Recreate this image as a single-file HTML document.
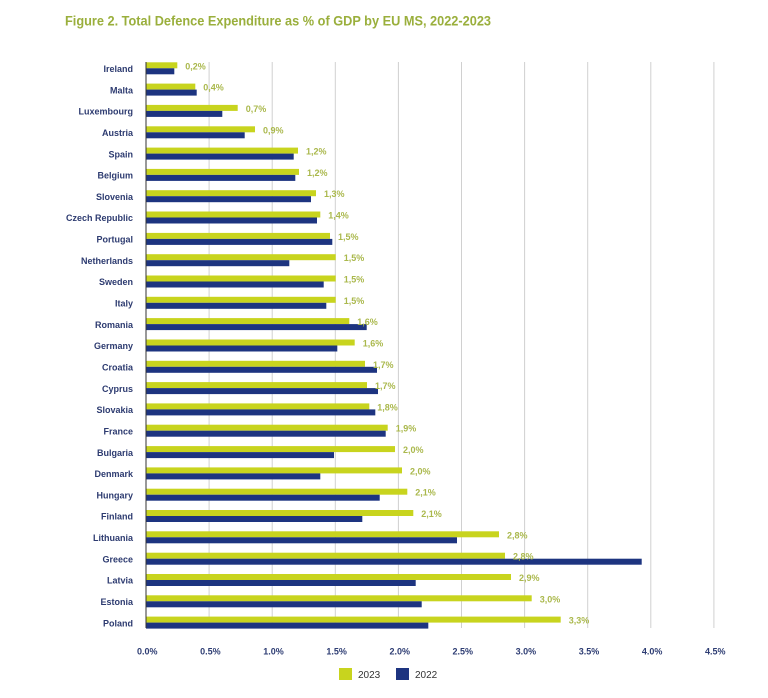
<!DOCTYPE html>
<html><head><meta charset="utf-8"><style>
html,body{margin:0;padding:0;background:#fff;}
svg{display:block;}
.c{font-family:"Liberation Sans",sans-serif;font-weight:bold;font-size:9px;fill:#2d3b70;text-anchor:end;}
.v{font-family:"Liberation Sans",sans-serif;font-weight:bold;font-size:9px;fill:#aab84c;}
.t{font-family:"Liberation Sans",sans-serif;font-weight:bold;font-size:9px;fill:#2e3d73;text-anchor:middle;}
.y{fill:#c8d41e;}
.n{fill:#1d3480;}
.g{stroke:#d0d0d0;stroke-width:1;}
</style></head><body>
<svg width="768" height="698" viewBox="0 0 768 698" xmlns="http://www.w3.org/2000/svg">
<rect width="768" height="698" fill="#fff"/>
<text x="65" y="25.5" font-family="Liberation Sans, sans-serif" font-weight="bold" font-size="14" fill="#9aaf3c" textLength="426" lengthAdjust="spacingAndGlyphs">Figure 2. Total Defence Expenditure as % of GDP by EU MS, 2022-2023</text>
<g>
<line class="g" x1="209.1" y1="62" x2="209.1" y2="628"/>
<line class="g" x1="272.2" y1="62" x2="272.2" y2="628"/>
<line class="g" x1="335.3" y1="62" x2="335.3" y2="628"/>
<line class="g" x1="398.4" y1="62" x2="398.4" y2="628"/>
<line class="g" x1="461.5" y1="62" x2="461.5" y2="628"/>
<line class="g" x1="524.6" y1="62" x2="524.6" y2="628"/>
<line class="g" x1="587.7" y1="62" x2="587.7" y2="628"/>
<line class="g" x1="650.8" y1="62" x2="650.8" y2="628"/>
<line class="g" x1="713.9" y1="62" x2="713.9" y2="628"/>
</g>
<g>
<rect class="y" x="146" y="62.3" width="31.3" height="6"/><rect class="n" x="146" y="68.3" width="28.3" height="6"/>
<rect class="y" x="146" y="83.6" width="49.3" height="6"/><rect class="n" x="146" y="89.6" width="50.7" height="6"/>
<rect class="y" x="146" y="104.9" width="91.7" height="6"/><rect class="n" x="146" y="110.9" width="76.3" height="6"/>
<rect class="y" x="146" y="126.3" width="109" height="6"/><rect class="n" x="146" y="132.3" width="98.7" height="6"/>
<rect class="y" x="146" y="147.6" width="152" height="6"/><rect class="n" x="146" y="153.6" width="147.7" height="6"/>
<rect class="y" x="146" y="168.9" width="153" height="6"/><rect class="n" x="146" y="174.9" width="149.3" height="6"/>
<rect class="y" x="146" y="190.2" width="170" height="6"/><rect class="n" x="146" y="196.2" width="165" height="6"/>
<rect class="y" x="146" y="211.5" width="174.3" height="6"/><rect class="n" x="146" y="217.5" width="171" height="6"/>
<rect class="y" x="146" y="232.9" width="184" height="6"/><rect class="n" x="146" y="238.9" width="186.3" height="6"/>
<rect class="y" x="146" y="254.2" width="189.7" height="6"/><rect class="n" x="146" y="260.2" width="143.3" height="6"/>
<rect class="y" x="146" y="275.5" width="189.7" height="6"/><rect class="n" x="146" y="281.5" width="177.7" height="6"/>
<rect class="y" x="146" y="296.8" width="189.7" height="6"/><rect class="n" x="146" y="302.8" width="180.3" height="6"/>
<rect class="y" x="146" y="318.1" width="203.3" height="6"/><rect class="n" x="146" y="324.1" width="220.7" height="6"/>
<rect class="y" x="146" y="339.5" width="208.7" height="6"/><rect class="n" x="146" y="345.5" width="191.3" height="6"/>
<rect class="y" x="146" y="360.8" width="219" height="6"/><rect class="n" x="146" y="366.8" width="231" height="6"/>
<rect class="y" x="146" y="382.1" width="221" height="6"/><rect class="n" x="146" y="388.1" width="232" height="6"/>
<rect class="y" x="146" y="403.4" width="223.3" height="6"/><rect class="n" x="146" y="409.4" width="229.3" height="6"/>
<rect class="y" x="146" y="424.7" width="241.7" height="6"/><rect class="n" x="146" y="430.7" width="239.7" height="6"/>
<rect class="y" x="146" y="446.1" width="249" height="6"/><rect class="n" x="146" y="452.1" width="188" height="6"/>
<rect class="y" x="146" y="467.4" width="256" height="6"/><rect class="n" x="146" y="473.4" width="174.3" height="6"/>
<rect class="y" x="146" y="488.7" width="261.3" height="6"/><rect class="n" x="146" y="494.7" width="233.7" height="6"/>
<rect class="y" x="146" y="510.0" width="267.3" height="6"/><rect class="n" x="146" y="516.0" width="216.3" height="6"/>
<rect class="y" x="146" y="531.3" width="353" height="6"/><rect class="n" x="146" y="537.3" width="311" height="6"/>
<rect class="y" x="146" y="552.7" width="359" height="6"/><rect class="n" x="146" y="558.7" width="495.7" height="6"/>
<rect class="y" x="146" y="574.0" width="365" height="6"/><rect class="n" x="146" y="580.0" width="269.7" height="6"/>
<rect class="y" x="146" y="595.3" width="385.7" height="6"/><rect class="n" x="146" y="601.3" width="275.7" height="6"/>
<rect class="y" x="146" y="616.6" width="414.7" height="6"/><rect class="n" x="146" y="622.6" width="282.3" height="6"/>
</g>
<line x1="146" y1="62" x2="146" y2="628" stroke="#333" stroke-width="1"/>
<g>
<text class="c" x="133" y="72.0">Ireland</text>
<text class="c" x="133" y="93.3">Malta</text>
<text class="c" x="133" y="114.6">Luxembourg</text>
<text class="c" x="133" y="136.0">Austria</text>
<text class="c" x="133" y="157.3">Spain</text>
<text class="c" x="133" y="178.6">Belgium</text>
<text class="c" x="133" y="199.9">Slovenia</text>
<text class="c" x="133" y="221.2">Czech Republic</text>
<text class="c" x="133" y="242.6">Portugal</text>
<text class="c" x="133" y="263.9">Netherlands</text>
<text class="c" x="133" y="285.2">Sweden</text>
<text class="c" x="133" y="306.5">Italy</text>
<text class="c" x="133" y="327.8">Romania</text>
<text class="c" x="133" y="349.2">Germany</text>
<text class="c" x="133" y="370.5">Croatia</text>
<text class="c" x="133" y="391.8">Cyprus</text>
<text class="c" x="133" y="413.1">Slovakia</text>
<text class="c" x="133" y="434.4">France</text>
<text class="c" x="133" y="455.8">Bulgaria</text>
<text class="c" x="133" y="477.1">Denmark</text>
<text class="c" x="133" y="498.4">Hungary</text>
<text class="c" x="133" y="519.7">Finland</text>
<text class="c" x="133" y="541.0">Lithuania</text>
<text class="c" x="133" y="562.4">Greece</text>
<text class="c" x="133" y="583.7">Latvia</text>
<text class="c" x="133" y="605.0">Estonia</text>
<text class="c" x="133" y="626.3">Poland</text>
</g>
<g>
<text class="v" x="185.3" y="69.3">0,2%</text>
<text class="v" x="203.3" y="90.6">0,4%</text>
<text class="v" x="245.7" y="111.9">0,7%</text>
<text class="v" x="263" y="133.3">0,9%</text>
<text class="v" x="306" y="154.6">1,2%</text>
<text class="v" x="307" y="175.9">1,2%</text>
<text class="v" x="324" y="197.2">1,3%</text>
<text class="v" x="328.3" y="218.5">1,4%</text>
<text class="v" x="338" y="239.9">1,5%</text>
<text class="v" x="343.7" y="261.2">1,5%</text>
<text class="v" x="343.7" y="282.5">1,5%</text>
<text class="v" x="343.7" y="303.8">1,5%</text>
<text class="v" x="357.3" y="325.1">1,6%</text>
<text class="v" x="362.7" y="346.5">1,6%</text>
<text class="v" x="373" y="367.8">1,7%</text>
<text class="v" x="375" y="389.1">1,7%</text>
<text class="v" x="377.3" y="410.4">1,8%</text>
<text class="v" x="395.7" y="431.7">1,9%</text>
<text class="v" x="403" y="453.1">2,0%</text>
<text class="v" x="410" y="474.4">2,0%</text>
<text class="v" x="415.3" y="495.7">2,1%</text>
<text class="v" x="421.3" y="517.0">2,1%</text>
<text class="v" x="507" y="538.3">2,8%</text>
<text class="v" x="513" y="559.7">2,8%</text>
<text class="v" x="519" y="581.0">2,9%</text>
<text class="v" x="539.7" y="602.3">3,0%</text>
<text class="v" x="568.7" y="623.6">3,3%</text>
</g>
<g>
<text class="t" x="147.3" y="654.5">0.0%</text>
<text class="t" x="210.4" y="654.5">0.5%</text>
<text class="t" x="273.5" y="654.5">1.0%</text>
<text class="t" x="336.6" y="654.5">1.5%</text>
<text class="t" x="399.7" y="654.5">2.0%</text>
<text class="t" x="462.8" y="654.5">2.5%</text>
<text class="t" x="525.9" y="654.5">3.0%</text>
<text class="t" x="589.0" y="654.5">3.5%</text>
<text class="t" x="652.1" y="654.5">4.0%</text>
<text class="t" x="715.2" y="654.5">4.5%</text>
</g>
<rect x="339" y="668" width="13" height="12" fill="#c8d41e"/>
<text x="358" y="678" font-family="Liberation Sans, sans-serif" font-size="10" fill="#333">2023</text>
<rect x="396" y="668" width="13" height="12" fill="#1d3480"/>
<text x="415" y="678" font-family="Liberation Sans, sans-serif" font-size="10" fill="#333">2022</text>
</svg>
</body></html>
